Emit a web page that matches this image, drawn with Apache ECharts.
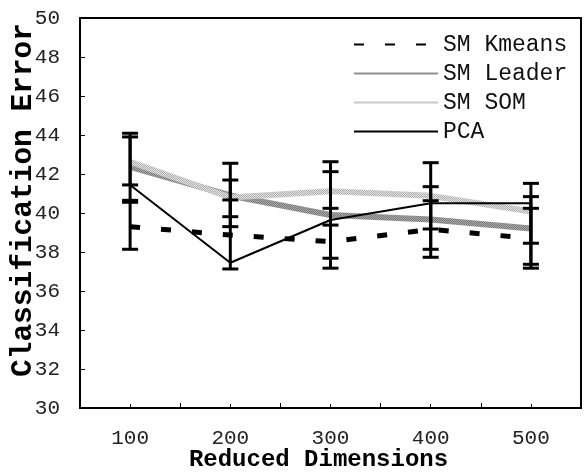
<!DOCTYPE html>
<html>
<head>
<meta charset="utf-8">
<script src="https://cdn.jsdelivr.net/npm/echarts@6/dist/echarts.min.js"></script>
<style>html,body{margin:0;padding:0;background:#fff}#c{width:584px;height:472px}</style>
</head>
<body>
<div id="c"></div>
<script>
const categories = ['100', '200', '300', '400', '500'];
const yTicks = [30, 32, 34, 36, 38, 40, 42, 44, 46, 48, 50];

const kmeans = [39.3, 38.87, 38.53, 39.16, 38.7];
const leader = [42.37, 40.9, 39.9, 39.67, 39.2];
const som = [42.63, 40.8, 41.12, 40.88, 40.08];
const pca = [41.44, 37.45, 39.64, 40.5, 40.5];

const kmeansLow = [38.14, 37.13, 37.68, 38.14, 37.17];
const kmeansHigh = [40.55, 40.67, 39.38, 40.63, 40.24];
const leaderLow = [40.65, 39.30, 37.17, 37.73, 37.37];
const leaderHigh = [44.09, 42.55, 42.63, 41.35, 40.84];
const somLow = [41.44, 39.81, 40.24, 39.18, 38.45];
const somHigh = [43.90, 41.69, 42.12, 42.58, 41.52];

const seriesNames = ['SM Kmeans', 'SM Leader', 'SM SOM', 'PCA'];

function makePattern(c1, c2) {
  const cv = document.createElement('canvas');
  cv.width = 2; cv.height = 2;
  const ctx = cv.getContext('2d');
  ctx.fillStyle = c1; ctx.fillRect(0, 0, 2, 2);
  ctx.fillStyle = c2; ctx.fillRect(0, 0, 1, 1); ctx.fillRect(1, 1, 1, 1);
  return { image: cv, repeat: 'repeat' };
}

const FONT = 'Liberation Mono';
const chart = echarts.init(document.getElementById('c'), null, { renderer: 'canvas' });

function errData(low, high) {
  return categories.map((c, i) => [i, low[i], high[i]]);
}
function renderErr(params, api) {
  const x = api.coord([api.value(0), 0])[0];
  const lo = api.coord([api.value(0), api.value(1)])[1];
  const hi = api.coord([api.value(0), api.value(2)])[1];
  const hw = 8;
  const st = { stroke: '#000', lineWidth: 3 };
  return {
    type: 'group',
    children: [
      { type: 'line', shape: { x1: x, y1: hi, x2: x, y2: lo }, style: st },
      { type: 'line', shape: { x1: x - hw, y1: hi, x2: x + hw, y2: hi }, style: st },
      { type: 'line', shape: { x1: x - hw, y1: lo, x2: x + hw, y2: lo }, style: st }
    ]
  };
}

const leaderColor = makePattern('#a8a8a8', '#7a7a7a');
const somColor = makePattern('#e2e2e2', '#b0b0b0');

chart.setOption({
  animation: false,
  backgroundColor: '#fff',
  grid: { left: 80, right: 3, top: 18, bottom: 64, containLabel: false, outerBoundsMode: 'none',
    show: true, borderColor: '#000', borderWidth: 2, backgroundColor: 'transparent' },
  legend: {
    orient: 'vertical',
    left: 348,
    top: 28,
    padding: 5,
    itemWidth: 84,
    itemHeight: 14,
    itemGap: 6,
    data: seriesNames,
    itemStyle: { opacity: 0 },
    textStyle: { fontFamily: FONT, fontSize: 23, color: '#111', lineHeight: 21 },
    selectedMode: false
  },
  xAxis: [{
    type: 'category',
    data: categories,
    boundaryGap: true,
    axisLine: { show: true, lineStyle: { color: '#000', width: 2 } },
    axisTick: { show: true, inside: true, length: 5, alignWithLabel: false, lineStyle: { color: '#000' } },
    axisLabel: { fontFamily: FONT, fontSize: 21, color: '#222', margin: 20 },
    name: 'Reduced Dimensions',
    nameLocation: 'middle',
    nameMoveOverlap: false,
    nameGap: 40,
    nameTextStyle: { fontFamily: FONT, fontSize: 24, fontWeight: 'bold', color: '#000', padding: [0, 24, 0, 0] }
  }, {
    type: 'category',
    data: categories,
    position: 'bottom',
    boundaryGap: true,
    axisLine: { show: false },
    axisTick: { show: true, inside: true, length: 4, alignWithLabel: true, lineStyle: { color: '#000' } },
    axisLabel: { show: false }
  }],
  yAxis: {
    type: 'value',
    min: 30,
    max: 50,
    interval: 2,
    axisLine: { show: true, lineStyle: { color: '#000', width: 2 } },
    axisTick: { show: true, inside: true, length: 5, lineStyle: { color: '#000' } },
    splitLine: { show: false },
    axisLabel: { fontFamily: FONT, fontSize: 21, color: '#222', margin: 20,
      formatter: v => (yTicks.indexOf(v) >= 0 ? String(v) : '') },
    name: 'Classification Error',
    nameLocation: 'middle',
    nameMoveOverlap: false,
    nameGap: 41,
    nameTextStyle: { fontFamily: FONT, fontSize: 29.5, fontWeight: 'bold', color: '#000', padding: [0, 0, 0, 26] }
  },
  series: [
    { name: 'SM Kmeans', type: 'line', data: kmeans, symbol: 'none', z: 3,
      lineStyle: { color: '#000', width: 5, type: [10, 21] }, itemStyle: { color: '#000' } },
    { name: 'SM Leader', type: 'line', data: leader, symbol: 'none', z: 2,
      lineStyle: { color: leaderColor, width: 6 }, itemStyle: { color: '#8f8f8f' } },
    { name: 'SM SOM', type: 'line', data: som, symbol: 'none', z: 2,
      lineStyle: { color: somColor, width: 6 }, itemStyle: { color: '#cccccc' } },
    { name: 'PCA', type: 'line', data: pca, symbol: 'none', z: 4,
      lineStyle: { color: '#000', width: 2 }, itemStyle: { color: '#000' } },
    { type: 'custom', data: errData(kmeansLow, kmeansHigh), renderItem: renderErr, z: 5, silent: true },
    { type: 'custom', data: errData(leaderLow, leaderHigh), renderItem: renderErr, z: 5, silent: true },
    { type: 'custom', data: errData(somLow, somHigh), renderItem: renderErr, z: 5, silent: true }
  ]
});
</script>
</body>
</html>
